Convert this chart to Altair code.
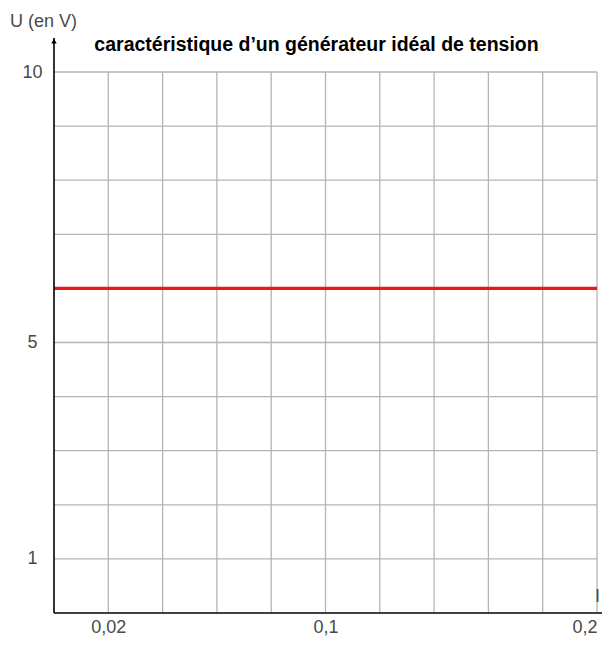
import altair as alt
import pandas as pd

# data
I_grid = [0.02, 0.04, 0.06, 0.08, 0.10, 0.12, 0.14, 0.16, 0.18, 0.20]
U_grid = [1, 2, 3, 4, 5, 6, 7, 8, 9, 10]
I_labels = [0.02, 0.1, 0.2]
U_labels = [1, 5, 10]
I_range = [0.0, 0.2]
U0 = 6
I_axis_end = 0.2020
U_axis_end = 10.63
title_text = "caractéristique d’un générateur idéal de tension"
y_title = "U (en V)"
x_title = "I"

xs = alt.Scale(domain=[0, 0.2], nice=False, zero=False)
ys = alt.Scale(domain=[0, 10], nice=False, zero=False)

vgrid = pd.DataFrame({"I": I_grid, "U0": [0] * len(I_grid), "U1": [10] * len(I_grid)})
hgrid = pd.DataFrame({"U": U_grid, "I0": [I_range[0]] * len(U_grid), "I1": [I_range[1]] * len(U_grid)})
line = pd.DataFrame({"I": I_range, "U": [U0, U0]})

grid_col = "#b4b4b4"
gw = 1.3
FONT = "Liberation Sans"
LBL = "#4a4a4a"

xaxis = alt.Axis(values=I_labels, labelExpr="replace(format(datum.value, '~g'), '.', ',')",
                 domain=False, ticks=False, grid=False, labelFontSize=18, labelColor=LBL,
                 labelFont=FONT, labelPadding=5, labelFlush=True, title=None)
yaxis = alt.Axis(values=U_labels, domain=False, ticks=False, grid=False,
                 labelFontSize=18, labelColor=LBL, labelFont=FONT, labelAlign="center",
                 labelPadding=22, title=None)

v = alt.Chart(vgrid).mark_rule(color=grid_col, strokeWidth=gw).encode(
    x=alt.X("I:Q", scale=xs, axis=xaxis),
    y=alt.Y("U0:Q", scale=ys, axis=yaxis),
    y2="U1:Q",
)
h = alt.Chart(hgrid).mark_rule(color=grid_col, strokeWidth=gw).encode(
    y=alt.Y("U:Q", scale=ys), x=alt.X("I0:Q", scale=xs), x2="I1:Q"
)
red = alt.Chart(line).mark_line(color="#e8190e", strokeWidth=3.2).encode(
    x=alt.X("I:Q", scale=xs), y=alt.Y("U:Q", scale=ys)
)
yline = alt.Chart(pd.DataFrame({"I": [0], "a": [0], "b": [U_axis_end]})).mark_rule(
    color="black", strokeWidth=1.6).encode(x=alt.X("I:Q", scale=xs), y=alt.Y("a:Q", scale=ys), y2="b:Q")
xline = alt.Chart(pd.DataFrame({"U": [0], "a": [0], "b": [I_axis_end]})).mark_rule(
    color="black", strokeWidth=1.6).encode(y=alt.Y("U:Q", scale=ys), x=alt.X("a:Q", scale=xs), x2="b:Q")
arrow = alt.Chart(pd.DataFrame({"I": [0], "U": [U_axis_end - 0.06]})).mark_point(
    shape="triangle-up", filled=True, color="black", size=30, opacity=1).encode(
    x=alt.X("I:Q", scale=xs), y=alt.Y("U:Q", scale=ys))

tdf = pd.DataFrame({"t": [title_text]})
title = alt.Chart(tdf).mark_text(fontSize=19.5, fontWeight="bold", font=FONT, color="black",
                                 align="center", baseline="alphabetic").encode(
    text="t:N", x=alt.value(262.5), y=alt.value(-21))
ytl = alt.Chart(pd.DataFrame({"t": [y_title]})).mark_text(
    fontSize=18, font=FONT, color=LBL, align="left", baseline="alphabetic").encode(
    text="t:N", x=alt.value(-44), y=alt.value(-45))
xtl = alt.Chart(pd.DataFrame({"t": [x_title]})).mark_text(
    fontSize=18, font=FONT, color=LBL, align="left", baseline="alphabetic").encode(
    text="t:N", x=alt.value(541), y=alt.value(530))

chart = alt.layer(v, h, red, yline, xline, arrow, title, ytl, xtl).properties(
    width=543, height=541,
    autosize=alt.AutoSizeParams(type="none"),
    padding={"left": 46, "top": 64, "right": 5, "bottom": 24},
).configure_view(stroke=None)

chart.save("out.html", embed_options={"renderer": "svg", "actions": False})
